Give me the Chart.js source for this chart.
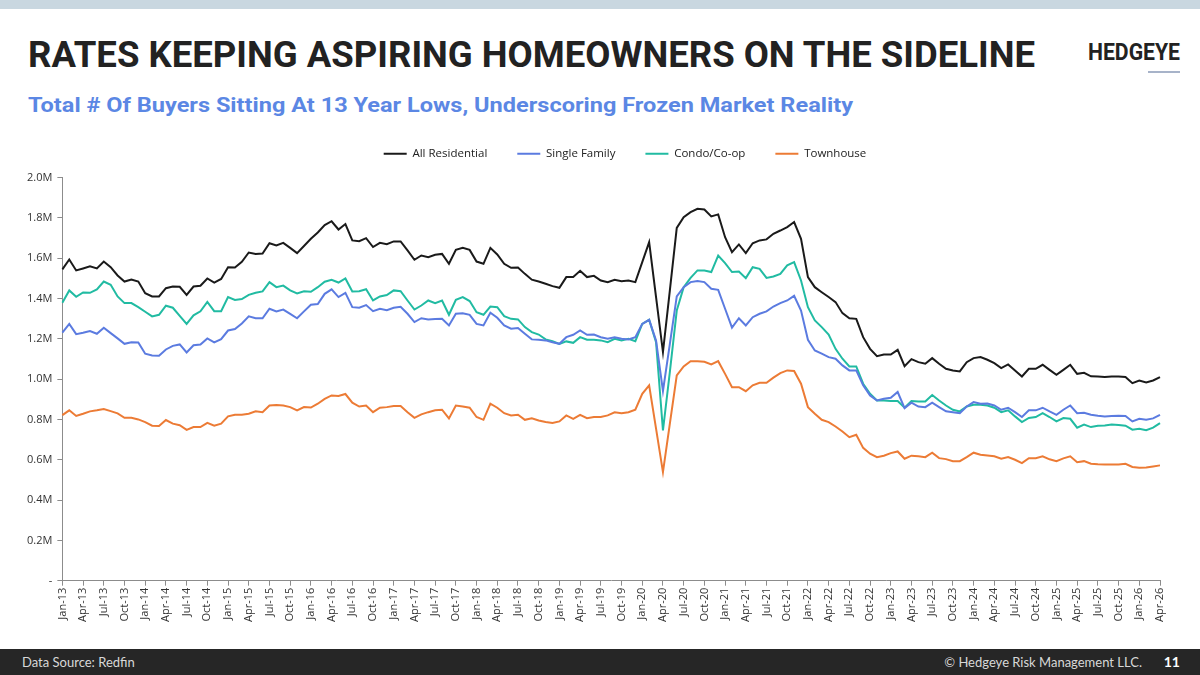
<!DOCTYPE html>
<html>
<head>
<meta charset="utf-8">
<script src="https://cdn.jsdelivr.net/npm/chart.js@4.4.1/dist/chart.umd.min.js"></script>
<style>
body { margin:0; width:1200px; height:675px; position:relative; overflow:hidden; background:#fff; font-family:'Lato','Open Sans',sans-serif; }
#topbar { position:absolute; left:0; top:0; width:1200px; height:9px; background:#c9d7e0; }
.fit { position:absolute; white-space:nowrap; transform-origin:0 0; line-height:1; }
#title { left:28px; top:33px; font:bold 37px 'Liberation Sans Narrow','Roboto',sans-serif; color:#222; }
#logo { left:1088px; top:38px; font:bold 24px 'Liberation Sans Narrow','Roboto',sans-serif; color:#222; }
#logoline { position:absolute; left:1148px; top:71px; width:32px; height:2px; background:#a7b3c9; }
#sub { left:28px; top:93px; font:bold 21px 'Liberation Sans Narrow','Roboto',sans-serif; color:#5b87e4; }
#chartbox { position:absolute; left:0; top:118px; width:1200px; height:506px; }
#footer { position:absolute; left:0; top:649px; width:1200px; height:26px; background:#262626; color:#d8d8d8; font-size:13px; }
#src { position:absolute; left:22px; top:5px; }
#copy { position:absolute; right:58px; top:5px; }
#page { position:absolute; right:20px; top:4px; font-weight:bold; font-size:14px; color:#fff; }
</style>
</head>
<body>
<div id="topbar"></div>
<div id="title" class="fit" data-w="1007">RATES KEEPING ASPIRING HOMEOWNERS ON THE SIDELINE</div>
<div id="logo" class="fit" data-w="92">HEDGEYE</div>
<div id="logoline"></div>
<div id="sub" class="fit" data-w="825">Total # Of Buyers Sitting At 13 Year Lows, Underscoring Frozen Market Reality</div>
<div id="chartbox"><canvas id="chart"></canvas></div>
<div id="footer"><span id="src">Data Source: Redfin</span><span id="copy">© Hedgeye Risk Management LLC.</span><span id="page">11</span></div>
<script>
// months Jan-13 .. Apr-26
const monthNames = ['Jan','Feb','Mar','Apr','May','Jun','Jul','Aug','Sep','Oct','Nov','Dec'];
const months = [];
for (let y = 13; y <= 26; y++) {
    for (let m = 0; m < 12; m++) {
        if (y === 26 && m > 3) break;
        months.push(monthNames[m] + '-' + y);
    }
}

// buyers, millions
const allResidential = [
    1.544,1.593,1.539,1.549,1.559,1.549,1.583,1.555,1.514,1.484,1.494,1.484,1.426,1.410,1.410,1.451,1.459,1.458,1.418,1.459,1.463,1.499,1.479,1.497,1.555,1.554,1.582,
    1.628,1.621,1.623,1.674,1.663,1.676,1.651,1.625,1.660,1.696,1.727,1.764,1.783,1.742,1.769,1.688,1.684,1.699,1.655,1.676,1.669,1.683,1.683,1.638,1.592,1.613,1.605,
    1.617,1.621,1.572,1.641,1.651,1.641,1.583,1.572,1.651,1.618,1.572,1.552,1.554,1.522,1.493,1.484,1.473,1.461,1.453,1.506,1.507,1.537,1.506,1.512,1.489,1.481,1.493,
    1.486,1.489,1.481,1.580,1.679,1.407,1.134,1.440,1.750,1.803,1.828,1.845,1.841,1.807,1.817,1.704,1.630,1.668,1.625,1.674,1.688,1.693,1.721,1.737,1.754,1.779,1.696,
    1.506,1.456,1.431,1.407,1.382,1.327,1.302,1.299,1.208,1.150,1.114,1.122,1.122,1.145,1.064,1.099,1.084,1.076,1.104,1.076,1.051,1.043,1.038,1.084,1.104,1.109,1.096,
    1.079,1.055,1.073,1.043,1.013,1.051,1.051,1.071,1.046,1.021,1.046,1.071,1.026,1.031,1.014,1.013,1.010,1.013,1.013,1.010,0.980,0.993,0.983,0.993,1.010
];
const singleFamily = [
    1.230,1.274,1.223,1.230,1.238,1.225,1.255,1.228,1.202,1.175,1.183,1.182,1.126,1.117,1.116,1.147,1.165,1.172,1.132,1.168,1.172,1.202,1.182,1.198,1.241,1.248,1.276,
    1.311,1.302,1.302,1.349,1.336,1.345,1.324,1.302,1.336,1.369,1.372,1.423,1.445,1.407,1.428,1.357,1.354,1.367,1.337,1.349,1.342,1.354,1.359,1.324,1.283,1.302,1.296,
    1.298,1.299,1.266,1.324,1.327,1.319,1.274,1.266,1.329,1.304,1.266,1.250,1.253,1.225,1.197,1.195,1.192,1.183,1.175,1.208,1.220,1.241,1.220,1.221,1.208,1.200,1.208,
    1.200,1.197,1.208,1.274,1.294,1.192,0.941,1.175,1.410,1.456,1.481,1.486,1.481,1.448,1.443,1.349,1.255,1.302,1.266,1.307,1.324,1.336,1.360,1.377,1.390,1.413,1.340,
    1.195,1.142,1.126,1.109,1.101,1.068,1.043,1.043,0.969,0.919,0.894,0.902,0.907,0.936,0.856,0.883,0.864,0.861,0.883,0.861,0.840,0.836,0.831,0.864,0.886,0.878,0.879,
    0.869,0.848,0.858,0.836,0.812,0.845,0.845,0.858,0.840,0.823,0.848,0.869,0.831,0.833,0.823,0.818,0.815,0.817,0.818,0.817,0.790,0.803,0.798,0.805,0.823
];
const condoCoop = [
    1.379,1.440,1.408,1.430,1.428,1.445,1.484,1.468,1.410,1.377,1.377,1.357,1.334,1.311,1.319,1.364,1.354,1.314,1.274,1.316,1.336,1.383,1.337,1.337,1.407,1.393,1.397,
    1.418,1.428,1.435,1.481,1.456,1.464,1.440,1.425,1.436,1.433,1.456,1.483,1.493,1.479,1.499,1.435,1.436,1.446,1.390,1.410,1.417,1.440,1.436,1.390,1.345,1.365,1.390,
    1.377,1.390,1.319,1.393,1.407,1.387,1.332,1.319,1.360,1.357,1.312,1.299,1.296,1.258,1.233,1.221,1.197,1.188,1.175,1.187,1.180,1.208,1.195,1.195,1.192,1.183,1.200,
    1.192,1.200,1.188,1.274,1.294,1.183,0.745,1.036,1.340,1.456,1.502,1.539,1.539,1.531,1.613,1.575,1.531,1.534,1.501,1.555,1.547,1.502,1.509,1.522,1.564,1.580,1.489,
    1.357,1.291,1.258,1.221,1.150,1.101,1.063,1.063,0.977,0.927,0.894,0.894,0.891,0.891,0.858,0.891,0.889,0.889,0.921,0.894,0.869,0.848,0.840,0.864,0.873,0.873,0.869,
    0.858,0.836,0.845,0.815,0.787,0.807,0.812,0.831,0.812,0.790,0.807,0.803,0.759,0.774,0.762,0.769,0.770,0.775,0.772,0.769,0.749,0.754,0.746,0.759,0.782
];
const townhouse = [
    0.821,0.845,0.817,0.828,0.840,0.845,0.851,0.841,0.830,0.808,0.808,0.800,0.787,0.769,0.767,0.797,0.779,0.771,0.748,0.762,0.762,0.783,0.769,0.779,0.815,0.823,0.823,
    0.828,0.840,0.836,0.869,0.871,0.869,0.861,0.845,0.861,0.859,0.878,0.902,0.919,0.916,0.926,0.883,0.864,0.869,0.836,0.858,0.861,0.866,0.866,0.836,0.808,0.825,0.836,
    0.845,0.848,0.805,0.869,0.864,0.858,0.812,0.798,0.878,0.858,0.831,0.820,0.823,0.798,0.806,0.795,0.787,0.782,0.790,0.820,0.803,0.823,0.806,0.812,0.812,0.820,0.835,
    0.831,0.836,0.848,0.927,0.969,0.754,0.539,0.779,1.018,1.063,1.089,1.089,1.086,1.073,1.089,1.026,0.960,0.960,0.940,0.969,0.982,0.982,1.007,1.030,1.043,1.040,0.977,
    0.861,0.828,0.798,0.787,0.765,0.740,0.712,0.724,0.659,0.630,0.613,0.620,0.633,0.641,0.605,0.620,0.617,0.613,0.635,0.608,0.603,0.593,0.593,0.613,0.635,0.625,0.621,
    0.617,0.605,0.613,0.600,0.583,0.608,0.608,0.617,0.602,0.593,0.607,0.617,0.588,0.593,0.580,0.578,0.577,0.577,0.577,0.580,0.564,0.560,0.562,0.567,0.572
];

const seriesNames = ['All Residential', 'Single Family', 'Condo/Co-op', 'Townhouse'];
const seriesColors = ['#1a1a1a', '#5b7be0', '#21bba2', '#ec7b35'];
const yTicks = [0, 0.2, 0.4, 0.6, 0.8, 1.0, 1.2, 1.4, 1.6, 1.8, 2.0];

// stretch the headline texts to the width they have on the slide
for (const el of document.querySelectorAll('.fit')) {
    const w = el.getBoundingClientRect().width;
    el.style.transform = 'scaleX(' + (el.dataset.w / w) + ')';
}

const axisGrey = '#8c8c8c';
const tickFont = { family: "'Open Sans', sans-serif", size: 11 };

// legend on the slide sits a bit right of the canvas centre, with more room below it
const legendShift = {
    id: 'legendShift',
    beforeUpdate(chart) {
        const lg = chart.legend;
        if (lg && !lg._extraGap) {
            const fit = lg.fit;
            lg.fit = function () { fit.call(this); this.height += 8; };
            lg._extraGap = true;
        }
    },
    afterLayout(chart) {
        chart.legend.left += 34;
        chart.legend.right += 34;
    }
};

new Chart(document.getElementById('chart').getContext('2d'), {
    type: 'line',
    data: {
        labels: months,
        datasets: [allResidential, singleFamily, condoCoop, townhouse].map((d, i) => ({
            label: seriesNames[i],
            data: d,
            borderColor: seriesColors[i],
            backgroundColor: seriesColors[i],
            borderWidth: 2,
            pointRadius: 0,
            tension: 0,
            fill: false
        }))
    },
    plugins: [legendShift],
    options: {
        responsive: true,
        maintainAspectRatio: false,
        animation: false,
        layout: { padding: { left: 22, right: 40, top: 0, bottom: 0 } },
        plugins: {
            legend: {
                position: 'top',
                labels: {
                    usePointStyle: true,
                    pointStyle: 'line',
                    pointStyleWidth: 23,
                    color: '#222',
                    font: { family: "'Open Sans', sans-serif", size: 11.5 },
                    padding: 30
                }
            },
            tooltip: { enabled: false }
        },
        scales: {
            x: {
                offset: false,
                border: { color: axisGrey, width: 1 },
                grid: {
                    drawOnChartArea: false,
                    tickLength: 5,
                    tickColor: (c) => c.index % 3 === 0 ? axisGrey : 'rgba(0,0,0,0)'
                },
                ticks: {
                    autoSkip: false,
                    minRotation: 90,
                    maxRotation: 90,
                    color: '#333',
                    font: tickFont,
                    padding: 2,
                    callback: (v, i) => i % 3 === 0 ? months[i] : ''
                }
            },
            y: {
                min: 0,
                max: 2.0,
                afterBuildTicks: (axis) => { axis.ticks = yTicks.map(v => ({ value: v })); },
                border: { color: axisGrey, width: 1 },
                grid: { drawOnChartArea: false, tickLength: 5, tickColor: axisGrey },
                ticks: {
                    color: '#333',
                    font: tickFont,
                    padding: 5,
                    callback: (v) => v === 0 ? '-' : v.toFixed(1) + 'M'
                }
            }
        }
    }
});
</script>
</body>
</html>
